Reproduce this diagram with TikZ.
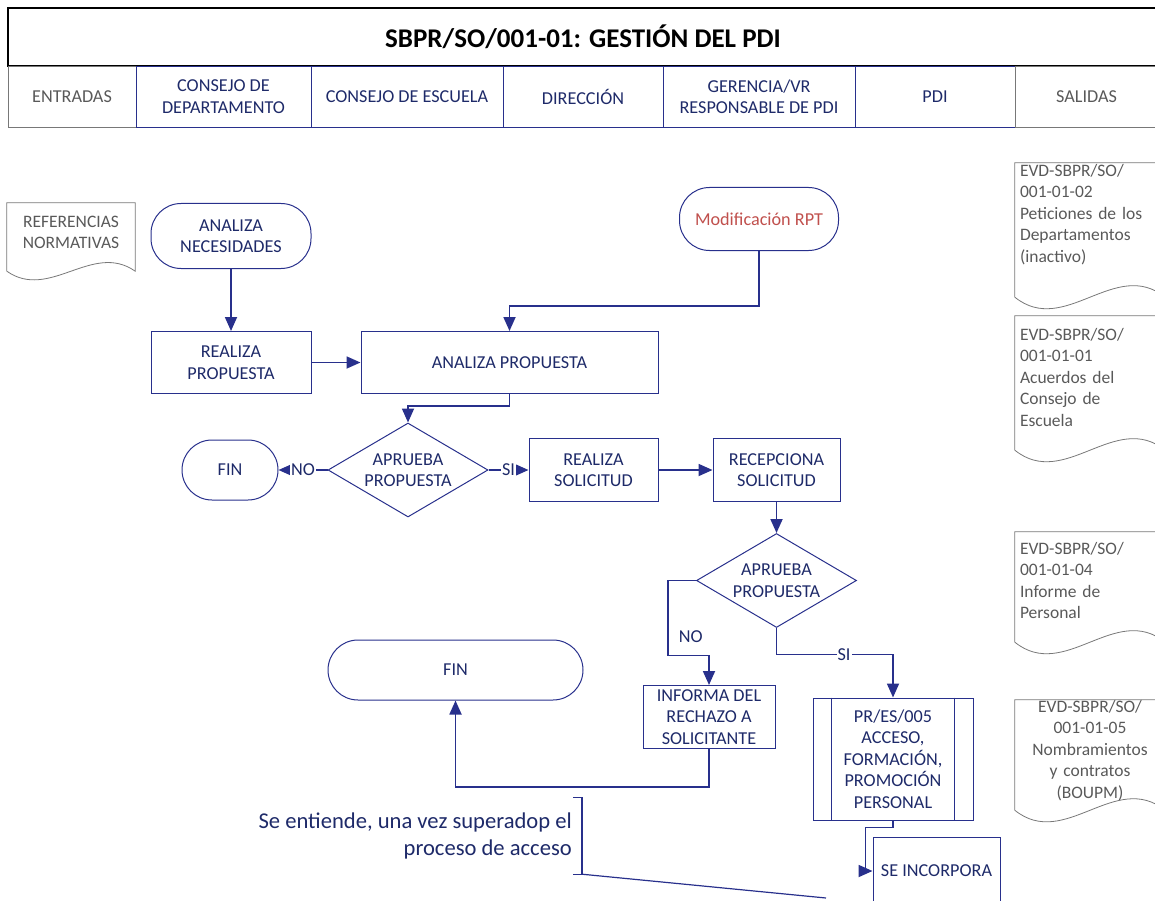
\documentclass[tikz,border=0pt]{standalone}
\usepackage{fontspec}
\setmainfont{Carlito}
\usetikzlibrary{arrows.meta,positioning,shapes.geometric,calc}
\definecolor{navyline}{RGB}{40,48,140}
\definecolor{navytext}{RGB}{30,42,105}
\definecolor{rptred}{RGB}{192,80,77}
\definecolor{docgray}{RGB}{120,120,120}
\definecolor{doctext}{RGB}{89,89,89}

% document outline: straight top and sides, wavy bottom
\newcommand{\docframe}[2][40]{%
  \draw[docline] (#2.south west) -- (#2.north west) -- (#2.north east) -- (#2.south east)
    .. controls ($(#2.south east)!0.333!(#2.south west)+(0,-#1)$) and ($(#2.south east)!0.667!(#2.south west)+(0,#1)$) .. (#2.south west);}

\begin{document}
\begin{tikzpicture}[x=1pt,y=-1pt,
    font=\fontsize{18.2}{21.5}\selectfont,
    box/.style={draw=navyline,line width=1pt,text=navytext,align=center,inner sep=2pt},
    term/.style={box,rounded corners=30pt},
    decision/.style={box,diamond,aspect=1.7,inner sep=0pt,minimum width=160pt,minimum height=94pt},
    lane/.style={draw=navyline,line width=0.8pt,text=navytext,align=center,minimum height=61pt,inner sep=0pt,outer sep=0pt},
    lanegray/.style={lane,draw=docgray,text=doctext},
    doc/.style={text=doctext,inner xsep=5pt,inner ysep=0pt,minimum width=150pt,text width=140pt,font=\fontsize{17.5}{21.5}\selectfont},
    docline/.style={draw=docgray,line width=0.8pt},
    flow/.style={draw=navyline,line width=1.8pt,-{Triangle[length=14pt,width=12pt]}},
    tag/.style={fill=white,text=navytext,inner sep=1pt},
  ]
    \useasboundingbox (0,0) rectangle (1155,901);
    \clip (0,0) rectangle (1155,901);

    % title and lanes
    \node (title) [draw=black,line width=1.2pt,minimum width=1150pt,minimum height=58pt,font=\fontsize{27}{32}\selectfont\bfseries] at (583,37) {SBPR/SO/001-01: GESTIÓN DEL PDI};
    \node (laneIn) [lanegray,minimum width=128pt,anchor=north west] at (8,66) {ENTRADAS};
    \node (laneDep) [lane,minimum width=175pt,right=0pt of laneIn] {CONSEJO DE\\DEPARTAMENTO};
    \node (laneEsc) [lane,minimum width=192pt,right=0pt of laneDep] {CONSEJO DE ESCUELA};
    \node (laneDir) [lane,minimum width=160pt,right=0pt of laneEsc] {DIRECCIÓN};
    \node (laneGer) [lane,minimum width=192pt,right=0pt of laneDir] {GERENCIA/VR\\RESPONSABLE DE PDI};
    \node (lanePdi) [lane,minimum width=160pt,right=0pt of laneGer] {PDI};
    \node (laneOut) [lanegray,minimum width=143pt,right=0pt of lanePdi] {SALIDAS};

    % inputs and outputs
    \node (docRef) [doc,minimum width=128pt,text width=118pt,minimum height=68pt,align=center,text depth=31pt] at (71,237) {REFERENCIAS\\NORMATIVAS};
    \node (docPet) [doc,minimum height=134pt,align=left,text depth=120pt] at (1090,230) {EVD-SBPR/SO/\\001-01-02\\Peticiones de los\\Departamentos\\(inactivo)};
    \node (docAcu) [doc,minimum height=134pt,align=left,text depth=98pt] at (1090,383) {EVD-SBPR/SO/\\001-01-01\\Acuerdos del\\Consejo de\\Escuela};
    \node (docInf) [doc,minimum height=110pt,align=left,text depth=78pt] at (1090,587) {EVD-SBPR/SO/\\001-01-04\\Informe de\\Personal};
    \node (docNom) [doc,minimum height=110pt,align=center,text depth=98pt] at (1090,755) {EVD-SBPR/SO/\\001-01-05\\Nombramientos\\y contratos\\(BOUPM)};
    \docframe[30]{docRef}
    \docframe{docPet}
    \docframe{docAcu}
    \docframe{docInf}
    \docframe{docNom}

    % flow
    \node (necesidades) [term,minimum width=160pt,minimum height=65pt] at (231,236) {ANALIZA\\NECESIDADES};
    \node (realizaProp) [box,minimum width=160pt,minimum height=62pt,below=62pt of necesidades] {REALIZA\\PROPUESTA};
    \node (analizaProp) [box,minimum width=297pt,minimum height=62pt,right=49pt of realizaProp] {ANALIZA PROPUESTA};
    \node (modRPT) [term,minimum width=159pt,minimum height=63pt,text=rptred] at (759,219) {Modificación RPT};
    \node (aprueba1) [decision] at (408,470) {APRUEBA\\PROPUESTA};
    \node (fin1) [term,minimum width=96pt,minimum height=60pt,left=49pt of aprueba1] {FIN};
    \node (realizaSol) [box,minimum width=129pt,minimum height=63pt,right=40pt of aprueba1] {REALIZA\\SOLICITUD};
    \node (recepciona) [box,minimum width=127pt,minimum height=63pt,right=54pt of realizaSol] {RECEPCIONA\\SOLICITUD};
    \node (aprueba2) [decision,below=31pt of recepciona] {APRUEBA\\PROPUESTA};
    \node (informa) [box,minimum width=132pt,minimum height=63pt] at (709,717) {INFORMA DEL\\RECHAZO A\\SOLICITANTE};
    \node (finBig) [term,minimum width=255pt,minimum height=60pt] at (455.5,670) {FIN};
    \node (acceso) [box,minimum width=160pt,minimum height=122pt] at (893,759) {PR/ES/005\\ACCESO,\\FORMACIÓN,\\PROMOCIÓN\\PERSONAL};
    \node (incorpora) [box,minimum width=127pt,minimum height=68pt] at (936.5,871) {SE INCORPORA};
    \draw[box] ([xshift=19pt]acceso.north west) -- ([xshift=19pt]acceso.south west);
    \draw[box] ([xshift=-19pt]acceso.north east) -- ([xshift=-19pt]acceso.south east);

    \draw[flow] (necesidades) -- (realizaProp);
    \draw[flow] (realizaProp) -- (analizaProp);
    \draw[flow] (modRPT.south) |- ([yshift=25pt]analizaProp.north) -- (analizaProp.north);
    \draw[flow] (analizaProp.south) -- ++(0,12) -| (aprueba1.north);
    \draw[flow] (aprueba1.west) -- node[tag] {NO} (fin1.east);
    \draw[flow] (aprueba1.east) -- node[tag] {SI} (realizaSol.west);
    \draw[flow] (realizaSol) -- (recepciona);
    \draw[flow] (recepciona) -- (aprueba2);
    \draw[flow] (aprueba2.west) -- ++(-28,0) -- ++(0,75) node[pos=0.75,right=9pt,text=navytext,inner sep=1pt] {NO} -| (informa.north);
    \draw[flow] (aprueba2.south) |- node[tag,pos=0.79] {SI} ([yshift=43pt]acceso.north) -- (acceso.north);
    \draw[flow] (informa.south) -- ++(0,38) -| (finBig.south);
    \draw[flow] (acceso.south) -- ++(0,7) -| ([xshift=-7pt]incorpora.west) -- (incorpora.west);

    % annotation
    \node (note) [anchor=east,align=right,text=navytext,minimum height=76pt,inner xsep=3pt,font=\fontsize{22.6}{27}\selectfont] at (575,836) {Se entiende, una vez superadop el\\proceso de acceso};
    \coordinate (noteEnd) at (826,898);
    \draw[navyline,line width=1.2pt] ([xshift=-2pt]note.north east) -- ++(9,0) |- ([xshift=-2pt]note.south east);
    \draw[navyline,line width=1.2pt] ([xshift=7pt]note.south east) -- (noteEnd);
  \end{tikzpicture}
\end{document}
